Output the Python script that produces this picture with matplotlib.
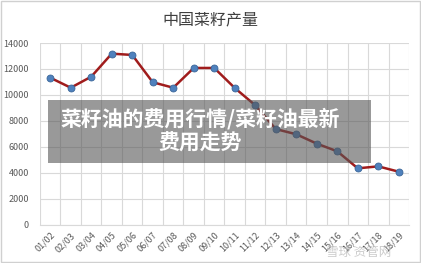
import numpy as np
import matplotlib.pyplot as plt
from matplotlib.patches import Rectangle

plt.rcParams['font.family'] = ['Noto Sans CJK SC', 'DejaVu Sans']

# 中国菜籽产量 (万吨), marketing years
seasons = ['01/02', '02/03', '03/04', '04/05', '05/06', '06/07', '07/08', '08/09', '09/10',
           '10/11', '11/12', '12/13', '13/14', '14/15', '15/16', '16/17', '17/18', '18/19']
output = [11330, 10560, 11410, 13180, 13080, 10980, 10560, 12080, 12080,
          10540, 9210, 7380, 6980, 6260, 5670, 4360, 4510, 4100]
yticks = [0, 2000, 4000, 6000, 8000, 10000, 12000, 14000]

chart_title = '中国菜籽产量'
overlay_text = '菜籽油的费用行情/菜籽油最新\n费用走势'

fig = plt.figure(figsize=(4.21, 2.63), dpi=100)
ax = fig.add_axes([0.095, 0.1445, 0.8765, 0.692])

x = np.arange(len(seasons))
ax.plot(x, output, color='#a01c1c', lw=1.8, zorder=3)
ax.plot(x, output, 'o', ms=5, color='#4f81bd', mec='#3a6699', mew=0.6, zorder=4)

ax.set_xlim(-0.5, len(seasons) - 0.5)
ax.set_ylim(0, 14000)
ax.set_yticks(yticks)
ax.set_yticklabels([str(v) for v in yticks], fontsize=6.5, color='#595959')
ax.set_xticks(x)
ax.set_xticklabels(seasons, fontsize=6.5, color='#595959', rotation=45,
                   ha='right', rotation_mode='anchor')
ax.set_xticks(np.arange(-0.5, len(seasons), 1), minor=True)
ax.tick_params(axis='both', which='both', length=0)
ax.tick_params(axis='y', pad=8)
ax.tick_params(axis='x', pad=4)
ax.grid(axis='y', which='major', color='#d9d9d9', lw=0.8)
ax.grid(axis='x', which='minor', color='#d9d9d9', lw=0.8)
for s in ['top', 'right', 'left']:
    ax.spines[s].set_visible(False)
ax.spines['bottom'].set_color('#d9d9d9')

fig.text(0.5, 0.925, chart_title, ha='center', va='center', fontsize=11.5, color='#404040')

# grey translucent banner over the chart
fig.patches.append(Rectangle((48 / 421, 1 - 163 / 263), 323 / 421, 63 / 263,
                             transform=fig.transFigure, facecolor='#555555',
                             alpha=0.6, edgecolor='none', zorder=5))
fig.text(0.475, 1 - 131 / 263, overlay_text, ha='center', va='center', fontsize=15,
         fontweight='bold', color='white', linespacing=1.2, zorder=6)

# watermark
fig.text(0.93, 0.04, '雪球 资管网', ha='right', va='center', fontsize=9,
         color='#bfbfbf', alpha=0.8, zorder=6)

fig.patches.append(Rectangle((0.002, 0.003), 0.995, 0.993, transform=fig.transFigure,
                             facecolor='none', edgecolor='#d0d0d0', lw=1))

fig.savefig('out.png', dpi=100)
